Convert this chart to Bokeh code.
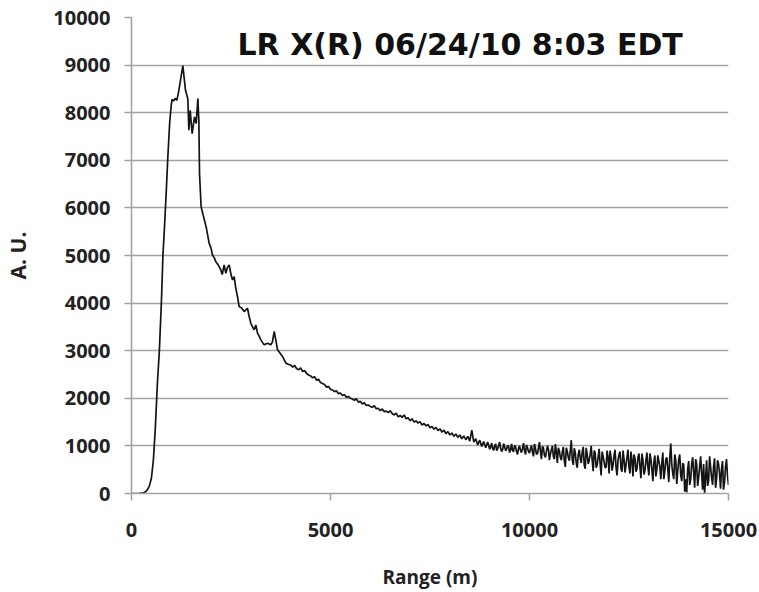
from bokeh.plotting import figure
from bokeh.models import Range1d, FixedTicker, Label
from bokeh.embed import file_html
from bokeh.resources import INLINE

# ---- data ----
head_range = [0, 100, 200, 300, 350, 400, 450, 500, 550, 600, 650, 700, 750, 790,
              829, 871, 913, 960, 997, 1020, 1060, 1100, 1140, 1190, 1290, 1357,
              1415, 1441, 1474, 1524, 1583, 1625, 1667, 1692, 1709, 1750, 1800,
              1876, 1951, 2000, 2035, 2080, 2119, 2180, 2245, 2280, 2328, 2370,
              2410, 2454, 2500, 2538, 2580, 2621, 2663, 2705, 2760, 2831, 2915,
              2956, 2998, 3040, 3082, 3124, 3166, 3210, 3250, 3333, 3417, 3501,
              3543, 3585, 3626, 3668, 3730, 3794, 3878, 3950]
head_signal = [0, 0, 5, 15, 35, 80, 160, 320, 700, 1400, 2300, 3000, 4000, 5000,
               5600, 6300, 7070, 7800, 8150, 8280, 8250, 8300, 8260, 8470, 8990, 8470,
               8295, 7630, 8050, 7560, 7910, 7770, 8295, 7840, 6720, 6020, 5850,
               5600, 5256, 5150, 5010, 4950, 4870, 4800, 4696, 4600, 4800, 4626,
               4750, 4800, 4600, 4486, 4556, 4311, 4137, 3927, 3900, 3822, 3892,
               3717, 3577, 3500, 3438, 3542, 3368, 3300, 3228, 3123, 3158, 3123,
               3193, 3403, 3228, 3019, 2950, 2879, 2739, 2710]

tail_range = [4000, 4050, 4100, 4150, 4200, 4250, 4300, 4350, 4400, 4450, 4500, 4550,
              4600, 4650, 4700, 4750, 4800, 4850, 4900, 4950, 5000, 5050, 5100, 5150,
              5200, 5250, 5300, 5350, 5400, 5450, 5500, 5550, 5600, 5650, 5700, 5750,
              5800, 5850, 5900, 5950, 6000, 6050, 6100, 6150, 6200, 6250, 6300, 6350,
              6400, 6450, 6500, 6550, 6600, 6650, 6700, 6750, 6800, 6850, 6900, 6950,
              7000, 7050, 7100, 7150, 7200, 7250, 7300, 7350, 7400, 7450, 7500, 7550,
              7600, 7650, 7700, 7750, 7800, 7850, 7900, 7950, 8000, 8050, 8100, 8150,
              8200, 8250, 8300, 8350, 8400, 8450, 8500, 8550, 8600, 8650, 8700, 8750,
              8800, 8850, 8900, 8950, 9000, 9050, 9100, 9150, 9200, 9250, 9300, 9350,
              9400, 9450, 9500, 9550, 9600, 9650, 9700, 9750, 9800, 9850, 9900, 9950,
              10000, 10050, 10100, 10150, 10200, 10250, 10300, 10350, 10400, 10450,
              10500, 10550, 10600, 10650, 10700, 10750, 10800, 10850, 10900, 10950,
              11000, 11050, 11100, 11150, 11200, 11250, 11300, 11350, 11400, 11450,
              11500, 11550, 11600, 11650, 11700, 11750, 11800, 11850, 11900, 11950,
              12000, 12050, 12100, 12150, 12200, 12250, 12300, 12350, 12400, 12450,
              12500, 12550, 12600, 12650, 12700, 12750, 12800, 12850, 12900, 12950,
              13000, 13050, 13100, 13150, 13200, 13250, 13300, 13350, 13400, 13450,
              13500, 13550, 13600, 13650, 13700, 13750, 13800, 13850, 13900, 13950,
              14000, 14050, 14100, 14150, 14200, 14250, 14300, 14350, 14400, 14450,
              14500, 14550, 14600, 14650, 14700, 14750, 14800, 14850, 14900, 14950,
              15000]
tail_signal = [2700, 2655, 2690, 2620, 2600, 2640, 2560, 2585, 2520, 2490, 2470, 2430,
               2455, 2380, 2400, 2330, 2310, 2290, 2235, 2250, 2190, 2175, 2140, 2160,
               2095, 2110, 2060, 2075, 2020, 2040, 2000, 1985, 1960, 1990, 1920, 1935,
               1880, 1905, 1850, 1860, 1830, 1810, 1845, 1780, 1790, 1740, 1775, 1720,
               1730, 1700, 1740, 1680, 1650, 1690, 1610, 1640, 1600, 1650, 1570, 1590,
               1530, 1570, 1500, 1525, 1480, 1510, 1440, 1470, 1420, 1450, 1380, 1410,
               1350, 1390, 1320, 1360, 1290, 1330, 1260, 1300, 1230, 1270, 1200, 1250,
               1180, 1230, 1150, 1210, 1130, 1200, 1100, 1330, 1080, 1150, 1020, 1120,
               990, 1090, 960, 1080, 930, 1060, 910, 1040, 940, 1080, 880, 1050,
               900, 1010, 860, 1040, 880, 980, 820, 1000, 860, 1060, 820, 960,
               850, 1010, 780, 950, 840, 1080, 720, 960, 760, 1000,
               700, 920, 780, 1040, 640, 900, 700, 980, 560, 880,
               690, 1120, 600, 860, 540, 920, 640, 980, 520, 820,
               700, 1000, 470, 860, 600, 940, 380, 780, 540, 900,
               420, 760, 600, 920, 380, 820, 520, 900, 440, 760,
               560, 880, 360, 740, 520, 840, 320, 700, 480, 860,
               380, 720, 260, 800, 500, 680, 300, 860, 460, 760,
               240, 1050, 420, 820, 200, 720, 380, 640, 40, 20,
               680, 300, 760, 120, 620, 340, 780, 80, 0, 700,
               260, 560, 180, 740, 300, 620, 100, 680, 240, 720,
               180]

# extra range gates in the noisy far field (between the ones above)
far_range = [9025, 9075, 9125, 9175, 9225, 9275, 9325, 9375, 9425, 9475,
             9525, 9575, 9625, 9675, 9725, 9775, 9825, 9875, 9925, 9975,
             10025, 10075, 10125, 10175, 10225, 10275, 10325, 10375, 10425, 10475,
             10525, 10575, 10625, 10675, 10725, 10775, 10825, 10875, 10925, 10975,
             11025, 11075, 11125, 11175, 11225, 11275, 11325, 11375, 11425, 11475,
             11525, 11575, 11625, 11675, 11725, 11775, 11825, 11875, 11925, 11975,
             12025, 12075, 12125, 12175, 12225, 12275, 12325, 12375, 12425, 12475,
             12525, 12575, 12625, 12675, 12725, 12775, 12825, 12875, 12925, 12975,
             13025, 13075, 13125, 13175, 13225, 13275, 13325, 13375, 13425, 13475,
             13525, 13575, 13625, 13675, 13725, 13775, 13825, 13875, 13925, 13975,
             14025, 14075, 14125, 14175, 14225, 14275, 14325, 14375, 14425, 14475,
             14525, 14575, 14625, 14675, 14725, 14775, 14825, 14875, 14925, 14975]
far_signal = [990, 940, 1000, 900, 1010, 950, 920, 980, 930, 990,
              920, 900, 1010, 880, 960, 900, 950, 900, 1020, 880,
              940, 870, 1040, 820, 960, 880, 990, 800, 880, 940,
              830, 1000, 720, 880, 960, 760, 880, 680, 960, 760,
              900, 700, 950, 640, 820, 740, 880, 600, 960, 620,
              820, 700, 900, 540, 760, 620, 880, 660, 560, 760,
              900, 480, 800, 540, 700, 880, 460, 720, 600, 920,
              420, 700, 820, 460, 760, 560, 840, 400, 680, 560,
              840, 500, 660, 360, 800, 560, 640, 300, 720, 520,
              760, 600, 300, 700, 480, 820, 260, 600, 300, 520,
              180, 620, 440, 720, 160, 560, 420, 620, 320, 160,
              780, 340, 560, 120, 700, 420, 520, 80, 560, 380]

pairs = sorted(zip(head_range + tail_range + far_range,
                   head_signal + tail_signal + far_signal))
range_m = [a for a, _ in pairs]
signal = [b for _, b in pairs]

x_ticks = [0, 5000, 10000, 15000]
y_ticks = [0, 1000, 2000, 3000, 4000, 5000, 6000, 7000, 8000, 9000, 10000]
title_text = "LR X(R) 06/24/10 8:03 EDT"

FONT = "Open Sans"
GRID = "#a3a3a3"

p = figure(width=759, height=592, output_backend="svg", toolbar_location=None,
           x_range=Range1d(0, 15000), y_range=Range1d(0, 10000),
           min_border_left=131, min_border_right=31, min_border_top=17,
           min_border_bottom=98)
p.outline_line_color = None
p.background_fill_color = "white"
p.border_fill_color = "white"

p.line(range_m, signal, line_color="#141414", line_width=1.7)

p.xgrid.visible = False
p.ygrid.grid_line_color = GRID
p.ygrid.grid_line_width = 1.6
p.ygrid.ticker = FixedTicker(ticks=y_ticks)

for ax in (p.xaxis[0], p.yaxis[0]):
    ax.axis_line_color = GRID
    ax.axis_line_width = 1.6
    ax.major_tick_line_color = GRID
    ax.major_tick_line_width = 1.6
    ax.major_tick_out = 7
    ax.major_tick_in = 0
    ax.minor_tick_line_color = None
    ax.major_label_text_font = FONT
    ax.major_label_text_font_style = "bold"
    ax.major_label_text_font_size = "20px"
    ax.major_label_text_color = "#222222"
    ax.axis_label_text_font = FONT
    ax.axis_label_text_font_style = "bold"
    ax.axis_label_text_color = "#222222"

p.xaxis.axis_label_text_font_size = "19px"
p.yaxis.axis_label_text_font_size = "21px"
p.xaxis.ticker = FixedTicker(ticks=x_ticks)
p.yaxis.ticker = FixedTicker(ticks=y_ticks)
p.xaxis.axis_label = "Range (m)"
p.yaxis.axis_label = "A. U."
p.xaxis.major_label_standoff = 22
p.yaxis.major_label_standoff = 14
p.xaxis.axis_label_standoff = 24
p.yaxis.axis_label_standoff = 18

p.add_layout(Label(x=2663, y=9434, text=title_text, text_font="DejaVu Sans",
                   text_font_style="bold", text_font_size="30px",
                   text_color="#111111", text_baseline="alphabetic",
                   text_align="left"))

open("out.html", "w").write(file_html(p, INLINE))
